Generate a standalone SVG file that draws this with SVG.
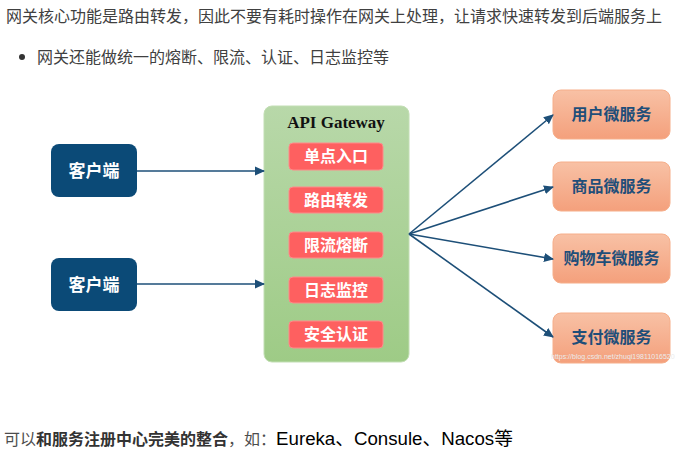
<svg xmlns="http://www.w3.org/2000/svg" width="681" height="460" viewBox="0 0 681 460">
<defs>
<linearGradient id="gGreen" x1="0" y1="0" x2="0" y2="1">
<stop offset="0" stop-color="#b8d8a9"/>
<stop offset="1" stop-color="#9ecb86"/>
</linearGradient>
<linearGradient id="gPeach" x1="0" y1="0" x2="0" y2="1">
<stop offset="0" stop-color="#f8c1a5"/>
<stop offset="1" stop-color="#f4a07c"/>
</linearGradient>
<marker id="arr" viewBox="0 0 10 10" refX="9" refY="5" markerWidth="10" markerHeight="10" markerUnits="userSpaceOnUse" orient="auto">
<path d="M0,0.5 L10,5 L0,9.5 Z" fill="#1d4f78"/>
</marker>
<style>
.txt{font-family:"Noto Sans CJK SC","Liberation Sans",sans-serif;font-size:16px;fill:#404040}
.client rect{fill:#0b4a77}
.client text{font-family:"Noto Sans CJK SC",sans-serif;font-size:17px;font-weight:bold;fill:#ffffff;text-anchor:middle}
.func rect{fill:#fe6060;stroke:#ff8a8a;stroke-width:1}
.func text{font-family:"Noto Sans CJK SC",sans-serif;font-size:16px;font-weight:bold;fill:#ffffff;text-anchor:middle}
.svc rect{fill:url(#gPeach);stroke:#f6ae8a;stroke-width:1}
.svc text{font-family:"Noto Sans CJK SC",sans-serif;font-size:16px;font-weight:bold;fill:#1f4e79;text-anchor:middle}
.conn line{stroke:#1d4f78;stroke-width:1.6;marker-end:url(#arr)}
</style>
</defs>
<rect width="681" height="460" fill="#ffffff"/>

<text class="txt" x="6" y="22">网关核心功能是路由转发，因此不要有耗时操作在网关上处理，让请求快速转发到后端服务上</text>
<circle cx="22" cy="57" r="3" fill="#333333"/>
<text class="txt" x="37" y="63">网关还能做统一的熔断、限流、认证、日志监控等</text>

<g id="client1" class="client">
<rect x="51" y="144" width="86" height="53" rx="8"/>
<text x="94" y="177">客户端</text>
</g>
<g id="client2" class="client">
<rect x="51" y="258" width="86" height="53" rx="8"/>
<text x="94" y="291">客户端</text>
</g>

<g id="gateway">
<rect x="264" y="106" width="145" height="256" rx="8" fill="url(#gGreen)" stroke="#c2deb4" stroke-width="1"/>
<text x="336" y="128" font-family="Liberation Serif,serif" font-size="17" font-weight="bold" fill="#111111" text-anchor="middle">API Gateway</text>
</g>
<g id="f1" class="func"><rect x="289" y="143" width="94" height="27" rx="4"/><text x="336" y="162">单点入口</text></g>
<g id="f2" class="func"><rect x="289" y="187" width="94" height="26" rx="4"/><text x="336" y="206">路由转发</text></g>
<g id="f3" class="func"><rect x="289" y="232" width="94" height="26" rx="4"/><text x="336" y="251">限流熔断</text></g>
<g id="f4" class="func"><rect x="289" y="277" width="94" height="26" rx="4"/><text x="336" y="296">日志监控</text></g>
<g id="f5" class="func"><rect x="289" y="321" width="94" height="27" rx="4"/><text x="336" y="340">安全认证</text></g>

<g id="s1" class="svc"><rect x="553" y="90" width="117" height="49" rx="8"/><text x="611.5" y="120">用户微服务</text></g>
<g id="s2" class="svc"><rect x="553" y="162" width="117" height="49" rx="8"/><text x="611.5" y="192">商品微服务</text></g>
<g id="s3" class="svc"><rect x="553" y="234" width="117" height="49" rx="8"/><text x="611.5" y="264">购物车微服务</text></g>
<g id="s4" class="svc"><rect x="553" y="313" width="117" height="50" rx="8"/><text x="611.5" y="343">支付微服务</text></g>

<g id="connectors" class="conn">
<line x1="137" y1="171" x2="264" y2="171"/>
<line x1="137" y1="284" x2="264" y2="284"/>
<line x1="409" y1="234" x2="553" y2="115"/>
<line x1="409" y1="234" x2="553" y2="187"/>
<line x1="409" y1="234" x2="553" y2="259"/>
<line x1="409" y1="234" x2="553" y2="337"/>
</g>

<text x="551" y="359" font-family="Liberation Sans,sans-serif" font-size="7" fill="#ebebeb">https://blog.csdn.net/zhuqi19811016520</text>

<text x="4" y="445" font-family="Noto Sans CJK SC,Liberation Sans,sans-serif" font-size="16" fill="#4d4d4d">可以<tspan font-weight="bold" fill="#333333">和服务注册中心完美的整合</tspan>，如：<tspan font-family="Liberation Sans,Noto Sans CJK SC,sans-serif" font-size="18.7" fill="#000000">Eureka、Consule、Nacos等</tspan></text>
</svg>
